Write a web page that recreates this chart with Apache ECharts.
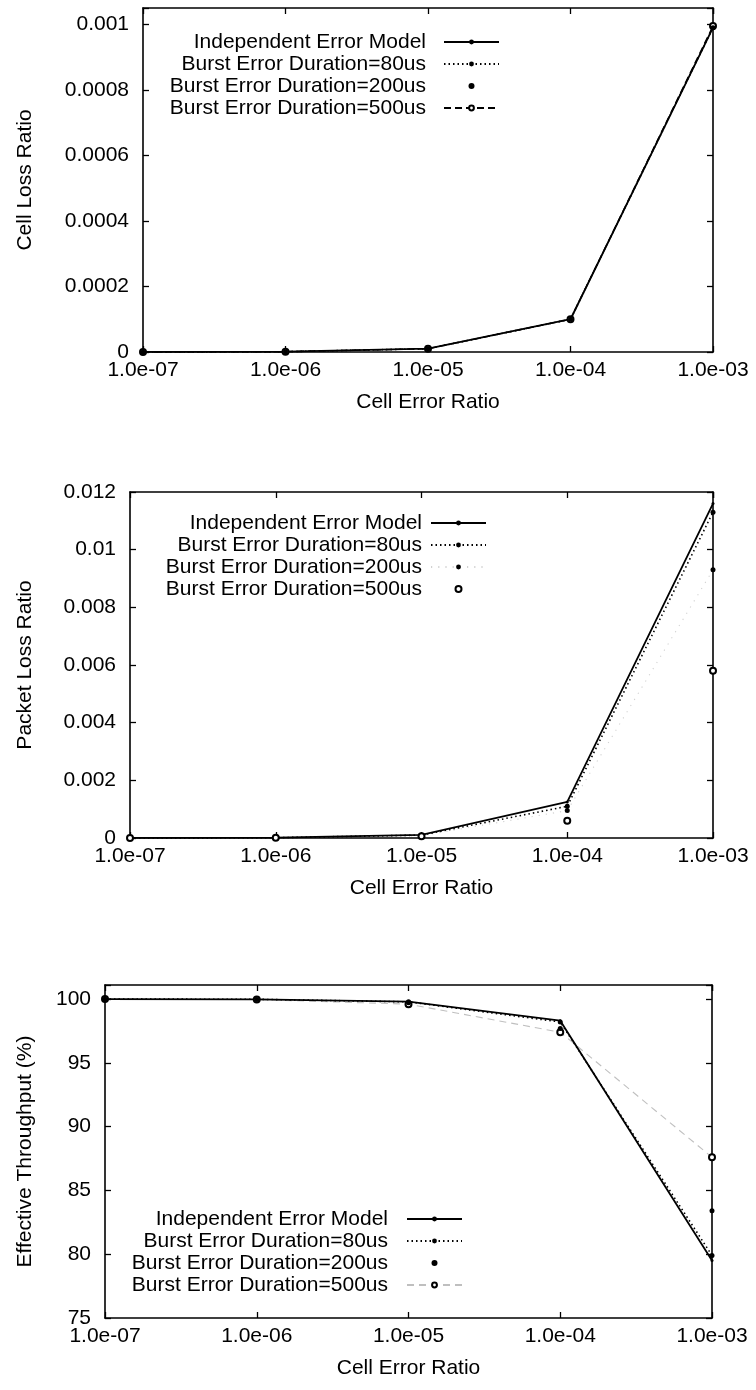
<!DOCTYPE html>
<html><head><meta charset="utf-8">
<script src="https://cdn.jsdelivr.net/npm/echarts@6/dist/echarts.min.js"></script>
<style>
html,body{margin:0;padding:0;background:#fff;width:756px;height:1390px;overflow:hidden}
.c{position:absolute;left:0;width:756px}
</style></head>
<body>
<div id="c1" class="c" style="top:0;height:440px"></div>
<div id="c2" class="c" style="top:470px;height:450px"></div>
<div id="c3" class="c" style="top:960px;height:430px"></div>
<script>
// ---------- data ----------
const cellErrorRatio = [1e-7, 1e-6, 1e-5, 1e-4, 1e-3];
const xTickLabels = ['1.0e-07', '1.0e-06', '1.0e-05', '1.0e-04', '1.0e-03'];
const seriesNames = ['Independent Error Model', 'Burst Error Duration=80us', 'Burst Error Duration=200us', 'Burst Error Duration=500us'];

// Cell Loss Ratio
const clrIndependent = [1e-7, 1e-6, 0.00001, 0.0001, 0.00099];
const clrBurst80 = [1e-7, 1e-6, 0.00001, 0.0001, 0.00099];
const clrBurst200 = [1e-7, 1e-6, 0.00001, 0.0001, 0.00099];
const clrBurst500 = [1e-7, 1e-6, 0.00001, 0.0001, 0.000995];
const clrTicks = [0, 0.0002, 0.0004, 0.0006, 0.0008, 0.001];

// Packet Loss Ratio
const plrIndependent = [0.000001, 0.00001, 0.00011, 0.00125, 0.0116];
const plrBurst80 = [0.000001, 0.00001, 0.0001, 0.0011, 0.0113];
const plrBurst200 = [0.000001, 0.00001, 0.00008, 0.00095, 0.0093];
const plrBurst500 = [0.000001, 0.000008, 0.00006, 0.0006, 0.0058];
const plrTicks = [0, 0.002, 0.004, 0.006, 0.008, 0.01, 0.012];

// Effective Throughput (%)
const etIndependent = [100, 99.98, 99.8, 98.3, 79.5];
const etBurst80 = [100, 99.98, 99.78, 98.2, 79.9];
const etBurst200 = [100, 99.97, 99.7, 97.7, 83.4];
const etBurst500 = [100, 99.96, 99.6, 97.4, 87.6];
const etTicks = [75, 80, 85, 90, 95, 100];

// ---------- styles ----------
const FONT = "'Liberation Sans', Arial, Helvetica, sans-serif";
const INK = '#000';
const styles = {
  solid:   {kind: 'line', dash: 'solid', width: 1.8, symbol: 'circle', size: 3, opacity: 1},
  dotted:  {kind: 'line', dash: [1.5, 3], width: 1.6, symbol: 'circle', size: 5, opacity: 1},
  sparse:  {kind: 'line', dash: [1.2, 6], width: 1.1, symbol: 'circle', size: 5, opacity: 0.18},
  points:  {kind: 'scatter', symbol: 'circle', size: 5},
  ring:    {kind: 'scatter', symbol: 'emptyCircle', size: 6},
  dashed:  {kind: 'line', dash: [7, 4], width: 1.4, symbol: 'emptyCircle', size: 6, opacity: 1},
  faintDashed: {kind: 'line', dash: [7, 5], width: 1.1, symbol: 'emptyCircle', size: 6, opacity: 0.25}
};

function makeSeries(name, values, st) {
  const data = cellErrorRatio.map((x, i) => [x, values[i]]);
  const empty = st.symbol === 'emptyCircle';
  const itemStyle = {color: INK, borderColor: INK, borderWidth: empty ? 1.5 : 0, opacity: 1};
  if (st.kind === 'scatter') {
    return {name, type: 'scatter', data, symbol: st.symbol, symbolSize: st.size, z: 5,
      itemStyle, emphasis: {disabled: true}, clip: false};
  }
  return {name, type: 'line', data, symbol: st.symbol, symbolSize: st.size, showSymbol: true, z: 4,
    clip: false,
    lineStyle: {color: INK, width: st.width, type: st.dash, opacity: st.opacity},
    itemStyle, emphasis: {disabled: true}};
}

function buildChart(el, cfg) {
  const chart = echarts.init(document.getElementById(el), null, {renderer: 'canvas'});
  const step = cfg.ticks[1] - cfg.ticks[0];
  const yFmt = v => {
    const k = (v - cfg.ticks[0]) / step;
    if (Math.abs(k - Math.round(k)) > 1e-6 || v > cfg.ticks[cfg.ticks.length - 1] + step * 1e-6) return '';
    return String(parseFloat(v.toPrecision(6)));
  };
  const xFmt = v => {
    const e = Math.round(Math.log10(v));
    return xTickLabels[e + 7] || '';
  };
  const tick = {show: true, inside: true, length: 6, lineStyle: {color: INK, width: 1.3}};
  const line = {show: true, onZero: false, lineStyle: {color: INK, width: 1.6}};
  const xBase = {type: 'log', logBase: 10, min: 1e-7, max: 1e-3, gridIndex: 0,
    splitLine: {show: false}, minorTick: {show: false}, axisLine: line, axisTick: tick};
  const yBase = {type: 'value', min: cfg.ticks[0], max: cfg.ymax, interval: step, gridIndex: 0,
    splitLine: {show: false}, axisLine: line, axisTick: tick};
  chart.setOption({
    animation: false,
    textStyle: {fontFamily: FONT, color: INK},
    grid: {left: cfg.grid.left, right: cfg.grid.right, top: cfg.grid.top, height: cfg.grid.height, containLabel: false},
    xAxis: [
      Object.assign({}, xBase, {position: 'bottom', name: 'Cell Error Ratio', nameLocation: 'middle', nameGap: 40,
        nameTextStyle: {fontSize: 21, fontFamily: FONT, color: INK},
        axisLabel: {show: true, formatter: xFmt, fontSize: 21, fontFamily: FONT, color: INK, margin: 8,
          showMinLabel: true, showMaxLabel: true, hideOverlap: false}}),
      Object.assign({}, xBase, {position: 'top', axisLabel: {show: false}})
    ],
    yAxis: [
      Object.assign({}, yBase, {position: 'left', name: cfg.yName, nameLocation: 'middle', nameGap: cfg.nameGap,
        nameTextStyle: {fontSize: 21, fontFamily: FONT, color: INK},
        axisLabel: {show: true, formatter: yFmt, fontSize: 21, fontFamily: FONT, color: INK, margin: 14}}),
      Object.assign({}, yBase, {position: 'right', axisLabel: {show: false}})
    ],
    legend: {
      orient: 'vertical', right: cfg.legend.right, top: cfg.legend.top, align: 'right',
      padding: 0, itemWidth: 55, itemHeight: 6, itemGap: 0, selectedMode: false,
      data: seriesNames,
      textStyle: {fontSize: 21, fontFamily: FONT, color: INK, lineHeight: 22, padding: [0, cfg.legend.gap, 0, 0]}
    },
    series: cfg.series.map(s => makeSeries(s[0], s[1], s[2]))
  });
}

buildChart('c1', {
  grid: {left: 143, right: 43, top: 8, height: 344},
  ticks: clrTicks, ymax: 0.00105, yName: 'Cell Loss Ratio', nameGap: 107,
  legend: {right: 256, top: 31, gap: 13},
  series: [
    [seriesNames[0], clrIndependent, styles.solid],
    [seriesNames[1], clrBurst80, styles.dotted],
    [seriesNames[2], clrBurst200, styles.points],
    [seriesNames[3], clrBurst500, styles.dashed]
  ]
});

buildChart('c2', {
  grid: {left: 130, right: 43, top: 22, height: 346},
  ticks: plrTicks, ymax: 0.012, yName: 'Packet Loss Ratio', nameGap: 94,
  legend: {right: 269, top: 42, gap: 4},
  series: [
    [seriesNames[0], plrIndependent, styles.solid],
    [seriesNames[1], plrBurst80, styles.dotted],
    [seriesNames[2], plrBurst200, styles.sparse],
    [seriesNames[3], plrBurst500, styles.ring]
  ]
});

buildChart('c3', {
  grid: {left: 105, right: 44, top: 25, height: 333},
  ticks: etTicks, ymax: 101.1, yName: 'Effective Throughput (%)', nameGap: 69,
  legend: {right: 293, top: 248, gap: 14},
  series: [
    [seriesNames[0], etIndependent, styles.solid],
    [seriesNames[1], etBurst80, styles.dotted],
    [seriesNames[2], etBurst200, styles.points],
    [seriesNames[3], etBurst500, styles.faintDashed]
  ]
});
</script>
</body></html>
